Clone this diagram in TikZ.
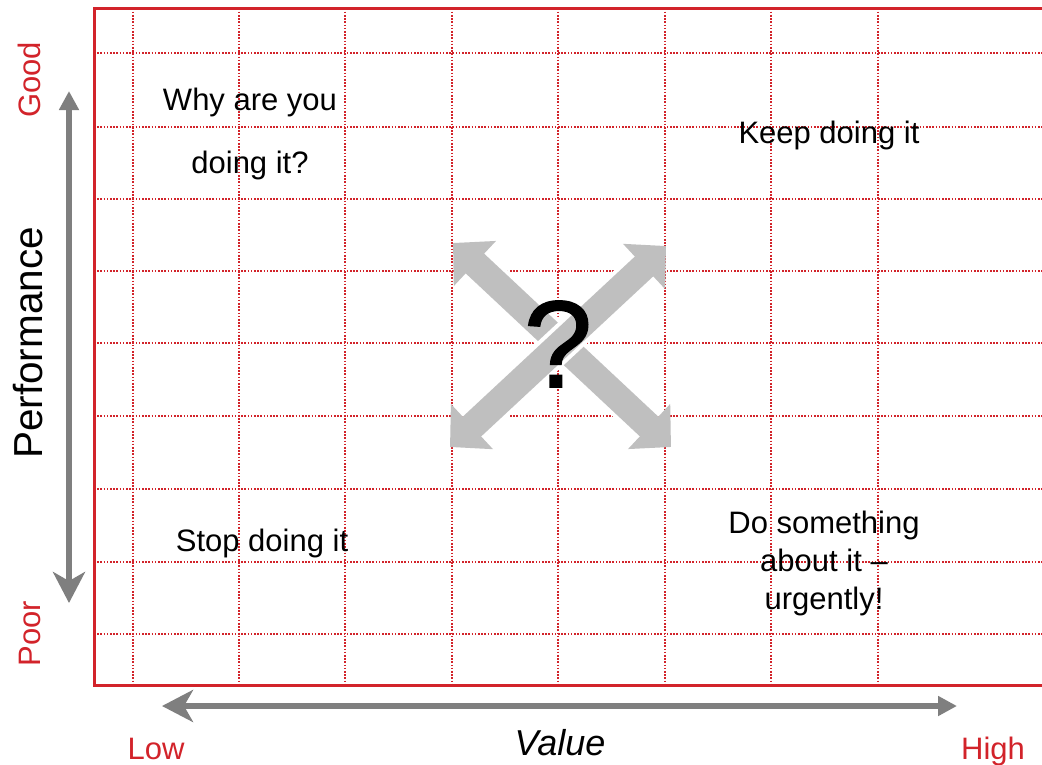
\documentclass[tikz,border=0pt]{standalone}
\usepackage{fontspec}
\setmainfont{Liberation Sans}
\newfontfamily\qmarkfont[FakeBold=1]{Liberation Sans}
\usetikzlibrary{arrows.meta}
\definecolor{qred}{HTML}{D2232A}
\definecolor{axgray}{HTML}{7F7F7F}
\definecolor{xgray}{HTML}{BFBFBF}
\begin{document}
\begin{tikzpicture}[x=1pt,y=-1pt,
  frame/.style={draw=qred,line width=3pt},
  gridline/.style={draw=qred,line width=1.6pt,dash pattern=on 1.6pt off 1.6pt},
  axisarrow/.style={draw=axgray,line width=6pt},
  crossarrow/.style={draw=xgray,line width=27pt,
    {Triangle[length=30pt,width=60pt]}-{Triangle[length=30pt,width=60pt]},
    preaction={draw=white,line width=35pt,-,shorten <=30pt,shorten >=30pt}},
  quad/.style={font=\fontsize{31}{38}\selectfont,inner sep=0pt,align=center},
  redlbl/.style={text=qred,font=\fontsize{31}{37}\selectfont,inner sep=0pt,anchor=base},
  axlbl/.style={text=black,inner sep=0pt,anchor=base}]
\useasboundingbox (0,0) rectangle (1042,764);
% grid
\foreach \gx in {133,239,345,452,558,665,771,878}
  \draw[gridline] (\gx,8.5) -- (\gx,685);
\foreach \gy in {53,127,199,271,343,416,489,562,634}
  \draw[gridline] (94,\gy) -- (1042,\gy);
% frame
\draw[frame] (1042,8.5) -- (94,8.5) -- (94,685) -- (1042,685);
% axis arrows
\coordinate (vtop) at (69,91);
\coordinate (vbot) at (69,603);
\coordinate (hleft) at (162,706);
\coordinate (hright) at (957,706);
\draw[axisarrow,{Triangle[length=19pt,width=19pt]}-{Stealth[length=31pt,width=32pt,inset=9pt]}] (vtop) -- (vbot);
\draw[axisarrow,{Stealth[length=31pt,width=32pt,inset=9pt]}-{Triangle[length=19pt,width=19pt]}] (hleft) -- (hright);
% cross arrows
\coordinate (nw) at (453,243);
\coordinate (se) at (671,447);
\coordinate (sw) at (450,447);
\coordinate (ne) at (666,246);
\draw[crossarrow] (nw) -- (se);
\draw[crossarrow] (sw) -- (ne);
\node[inner sep=0pt,font=\qmarkfont\fontsize{124}{124}\selectfont] (q) at (558,344) {?};
% quadrant texts
\node[quad] (why) at (250,133.5) {Why are you\\[25pt]doing it?};
\node[quad,anchor=base] (keep) at (829,143) {Keep doing it};
\node[quad,anchor=base] (stop) at (262,551) {Stop doing it};
\node[quad] (dosth) at (824,563) {Do something\\about it --\\urgently!};
% axis labels
\node[redlbl,rotate=90] (good) at (40,80) {Good};
\node[redlbl,rotate=90] (poor) at (40,633.5) {Poor};
\node[axlbl,rotate=90,font=\fontsize{40.5}{48}\selectfont] (perf) at (42,343) {Performance};
\node[redlbl] (low) at (156,759) {Low};
\node[redlbl] (high) at (993,759) {High};
\node[axlbl,font=\fontsize{36}{43}\selectfont\itshape] (value) at (560,755) {Value};
\end{tikzpicture}
\end{document}
